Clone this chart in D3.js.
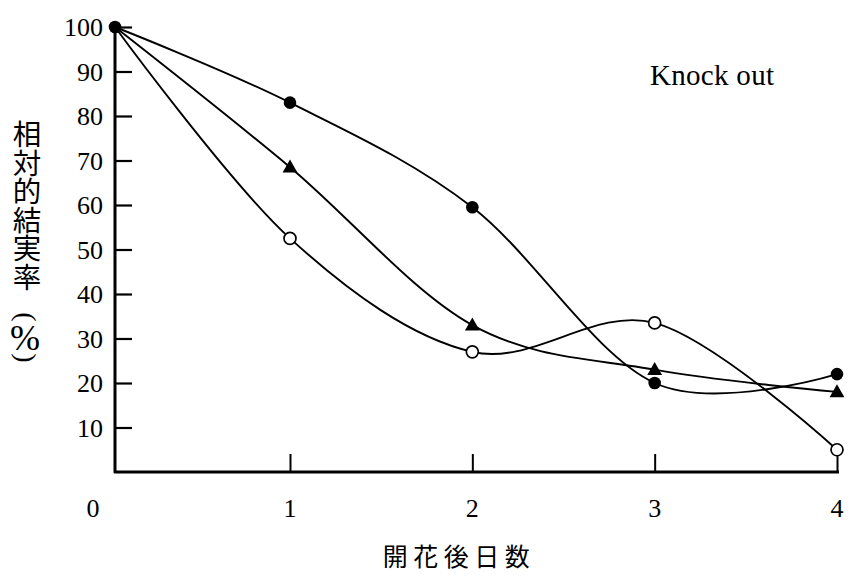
<!DOCTYPE html>
<html>
<head>
<meta charset="utf-8">
<script src="https://cdn.jsdelivr.net/npm/d3@7"></script>
<style>
  html, body { margin: 0; padding: 0; background: #fff; }
  svg { display: block; }
</style>
</head>
<body>
<svg id="chart" width="849" height="576"></svg>
<script>
// Days after flowering and relative fruit-set (%) for the three treatments
const days = [0, 1, 2, 3, 4];
const filledCircle = [100, 83, 59.5, 20, 22];
const filledTriangle = [100, 68.5, 33, 23, 18];
const openCircle = [100, 52.5, 27, 33.5, 5];
const yTicks = [10, 20, 30, 40, 50, 60, 70, 80, 90, 100];
const xTicks = [0, 1, 2, 3, 4];
const yTitle = "相対的結実率";
const yUnitChars = ["(", "%", ")"];
const xTitle = "開花後日数";
const panelLabel = "Knock out";

const svg = d3.select("#chart");
const serif = "'Liberation Serif', 'DejaVu Serif', serif";
const cjk = "'Noto Sans CJK JP', 'Noto Sans CJK SC', sans-serif";

const x = d3.scaleLinear().domain([0, 1, 4]).range([115, 290, 837]);
const y = d3.scaleLinear().domain([0, 100]).range([472, 27]);

// Axes: ticks point inward
const yAxis = svg.append("g")
  .attr("transform", `translate(${x(0)},0)`)
  .call(d3.axisRight(y).tickValues(yTicks).tickSize(17).tickFormat(""));
yAxis.select(".domain").remove();
yAxis.selectAll(".tick line").attr("stroke", "#000").attr("stroke-width", 2.2);

const xAxis = svg.append("g")
  .attr("transform", `translate(0,${y(0)})`)
  .call(d3.axisTop(x).tickValues(xTicks.slice(1)).tickSize(18).tickFormat(""));
xAxis.select(".domain").remove();
xAxis.selectAll(".tick line").attr("stroke", "#000").attr("stroke-width", 2);

// Axis lines
svg.append("line")
  .attr("x1", x(0)).attr("x2", x(0)).attr("y1", y(100)).attr("y2", y(0) + 1)
  .attr("stroke", "#000").attr("stroke-width", 3);
svg.append("line")
  .attr("x1", x(0) - 1).attr("x2", x(4) + 2).attr("y1", y(0)).attr("y2", y(0))
  .attr("stroke", "#000").attr("stroke-width", 3);

// Tick labels
svg.append("g").selectAll("text").data(yTicks).join("text")
  .attr("x", x(0) - 12).attr("y", d => y(d) + 9)
  .attr("text-anchor", "end")
  .attr("font-family", serif).attr("font-size", 26)
  .text(d => d);

svg.append("g").selectAll("text").data(xTicks).join("text")
  .attr("x", d => x(d) - (d === 0 ? 22 : 0))
  .attr("y", y(0) + 45)
  .attr("text-anchor", "middle")
  .attr("font-family", serif).attr("font-size", 26)
  .text(d => d);

// Y title set vertically, then the unit with turned parentheses
svg.append("text")
  .attr("x", 27).attr("y", 120)
  .attr("writing-mode", "vertical-rl")
  .style("writing-mode", "vertical-rl")
  .attr("font-family", cjk).attr("font-size", 28.5)
  .text(yTitle);

const unitPos = [
  { cx: 26, cy: 317, rot: 90, size: 28 },
  { cx: 25, cy: 338, rot: 0, size: 36 },
  { cx: 26, cy: 358, rot: 90, size: 28 }
];
svg.append("g").selectAll("text").data(yUnitChars).join("text")
  .attr("transform", (d, i) => `translate(${unitPos[i].cx},${unitPos[i].cy}) rotate(${unitPos[i].rot})`)
  .attr("text-anchor", "middle")
  .attr("dominant-baseline", "central")
  .attr("font-family", serif)
  .attr("font-size", (d, i) => unitPos[i].size)
  .text(d => d);

svg.append("text")
  .attr("x", 459).attr("y", 566)
  .attr("text-anchor", "middle")
  .attr("font-family", cjk).attr("font-size", 25)
  .attr("letter-spacing", 5.5)
  .text(xTitle);

svg.append("text")
  .attr("x", 650).attr("y", 85)
  .attr("font-family", serif).attr("font-size", 29)
  .attr("letter-spacing", 0.3)
  .text(panelLabel);

// Smoothed series lines
const line = d3.line()
  .x((d, i) => x(days[i]))
  .y(d => y(d))
  .curve(d3.curveCardinal.tension(0));

const seriesList = [
  { values: filledCircle, marker: "dot" },
  { values: filledTriangle, marker: "triangle" },
  { values: openCircle, marker: "ring" }
];

svg.append("g").selectAll("path").data(seriesList).join("path")
  .attr("d", s => line(s.values))
  .attr("fill", "none")
  .attr("stroke", "#000")
  .attr("stroke-width", 1.9);

// Markers
const triangle = d3.symbol().type(d3.symbolTriangle).size(95);
seriesList.forEach(s => {
  const g = svg.append("g");
  const pts = s.values.map((v, i) => ({ day: days[i], v }));
  if (s.marker === "dot") {
    g.selectAll("circle").data(pts).join("circle")
      .attr("cx", d => x(d.day)).attr("cy", d => y(d.v)).attr("r", 6.3)
      .attr("fill", "#000");
  } else if (s.marker === "triangle") {
    g.selectAll("path").data(pts.slice(1)).join("path")
      .attr("transform", d => `translate(${x(d.day)},${y(d.v) + 1})`)
      .attr("d", triangle)
      .attr("fill", "#000");
  } else {
    g.selectAll("circle").data(pts.slice(1)).join("circle")
      .attr("cx", d => x(d.day)).attr("cy", d => y(d.v)).attr("r", 6)
      .attr("fill", "#fff").attr("stroke", "#000").attr("stroke-width", 1.7);
  }
});
</script>
</body>
</html>
